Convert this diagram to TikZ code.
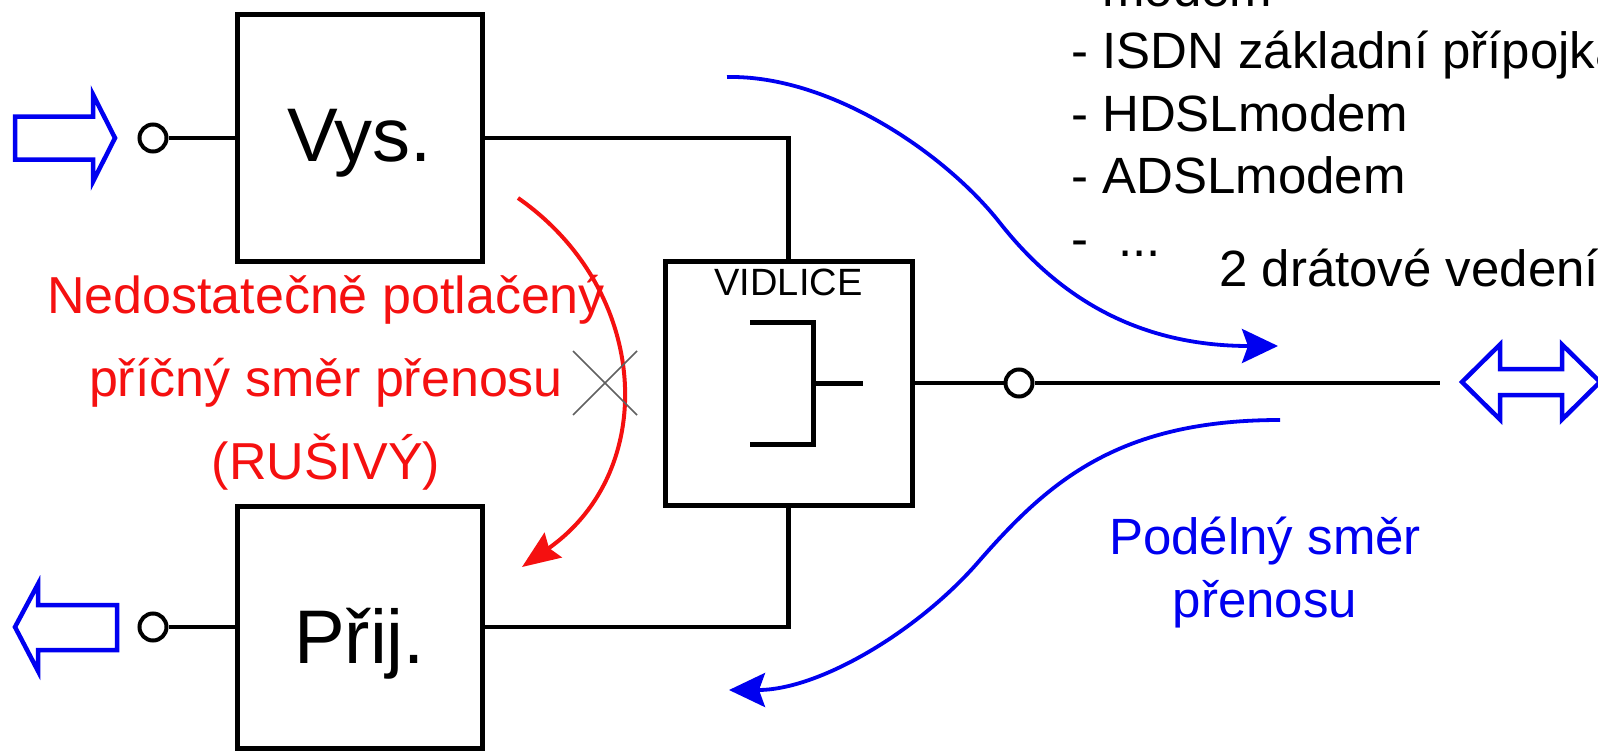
\documentclass[tikz,border=0pt]{standalone}
\usepackage{fontspec}
\setmainfont{Liberation Sans}
\usetikzlibrary{arrows.meta,calc}
\definecolor{cModra}{HTML}{0000F0}
\definecolor{cCervena}{HTML}{F51010}
\definecolor{cKriz}{HTML}{606060}

\begin{document}
\begin{tikzpicture}[
  x=1pt,y=-1pt,
  blok/.style={draw,line width=5pt,minimum width=245pt,inner sep=0pt,font=\fontsize{76}{90}\selectfont},
  svorka/.style={draw,circle,line width=4pt,minimum size=27pt,inner sep=0pt,fill=white},
  vodic/.style={line width=4.5pt},
  sipka/.style={draw=cModra,line width=4.5pt,line join=miter},
  tok/.style={cModra,line width=3.8pt,-{Stealth[length=36pt,width=34pt,inset=6pt]}},
  popis/.style={inner sep=0pt,font=\fontsize{51}{62.5}\selectfont}
]
\useasboundingbox (0,0) rectangle (1598,752);
\fill[white] (0,0) rectangle (1598,752);
\clip (0,0) rectangle (1598,752);

\node[blok,minimum height=246pt,text height=57pt,text depth=11pt] (vys) at (359.5,138) {Vys.};
\node[blok,minimum height=242pt,text height=75pt,text depth=3pt] (prij) at (359.5,627) {Přij.};
\node[blok,minimum width=247pt,minimum height=244pt] (vid) at (788.5,383) {};
\node[inner sep=0pt,anchor=base,font=\fontsize{38}{44}\selectfont] (vidtxt) at ($(vid.north)+(0,37)$) {VIDLICE};

\node[svorka] (s1) at (153,138) {};
\node[svorka] (s2) at (153,627) {};
\node[svorka] (s3) at (1019,383) {};
\coordinate (linka) at (1440,383);

\draw[vodic] (s1) -- (s1 -| vys.west);
\draw[vodic] (s2) -- (s2 -| prij.west);
\draw[vodic] (vys.east) -| (vid.north);
\draw[vodic] (prij.east) -| (vid.south);
\draw[vodic] (vid.east) -- (s3);
\draw[vodic] (s3) -- (linka);
\draw[vodic,line width=5pt,shift={(vid.center)}] (-38.5,-61) -| (24.5,61) -- (-38.5,61);
\draw[vodic,line width=5pt,shift={(vid.center)}] (24.5,0) -- (74.5,0);

% blokove sipky
\coordinate (vstup) at (115,138);
\coordinate (vystup) at (15,627);
\coordinate (vedeni) at (1462,382);
\draw[sipka] (vstup) -- ++(-22,-43.5) -- ++(0,22) -- ++(-78,0) -- ++(0,43) -- ++(78,0) -- ++(0,22) -- cycle;
\draw[sipka,xscale=-1] (vystup) -- ++(-23,-43) -- ++(0,21) -- ++(-79,0) -- ++(0,45) -- ++(79,0) -- ++(0,21) -- cycle;
\draw[sipka] (vedeni) -- ++(38,-37.5) -- ++(0,24.5) -- ++(62,0) -- ++(0,-24.5) -- ++(38,37.5)
  -- ++(-38,37.5) -- ++(0,-24.5) -- ++(-62,0) -- ++(0,24.5) -- cycle;

% smery prenosu
\draw[tok] (727,77) .. controls (830,75) and (945,153) .. (1000,223)
  .. controls (1045,280) and (1120,346) .. (1278,346);
\draw[tok] (1280,420) .. controls (1120,420) and (1050,480) .. (980,560)
  .. controls (920,630) and (820,690) .. (729,690);
\draw[cCervena,line width=4pt,-{Stealth[length=38pt,width=30pt,inset=5pt]}]
  (518,198) .. controls (650,290) and (660,470) .. (522,567);
\coordinate (kriz) at (605,383);
\draw[cKriz,line width=1.5pt] ($(kriz)+(-32,-32)$) -- ($(kriz)+(32,32)$);
\draw[cKriz,line width=1.5pt] ($(kriz)+(-32,32)$) -- ($(kriz)+(32,-32)$);

\node[popis,text=cCervena,align=center,anchor=base,font=\fontsize{52}{83}\selectfont] (rusivy) at (326,479)
  {Nedostatečně potlačený\\příčný směr přenosu\\(RUŠIVÝ)};
\node[popis,text=cModra,align=center,anchor=base] (podelny) at (1265,617)
  {Podélný směr\\přenosu};
\node[popis,align=left,anchor=base west] (seznam) at (1071,256)
  {\phantom{- }modem\\- ISDN základní přípojka\\- HDSLmodem\\- ADSLmodem\\-\hspace{30pt}...};
\node[popis,anchor=base west] (dvoudrat) at (1219,286) {2 drátové vedení};
\end{tikzpicture}
\end{document}
